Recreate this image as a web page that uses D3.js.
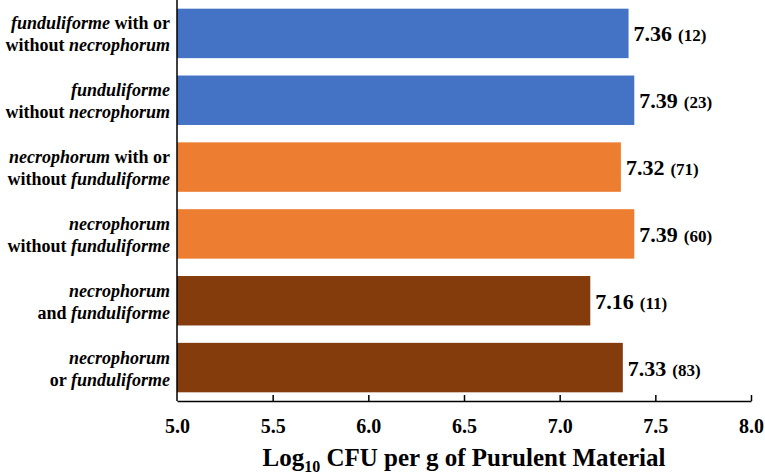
<!DOCTYPE html>
<meta charset="utf-8">
<style>
body { margin: 0; background: #fff; }
text { font-family: "Liberation Serif", "Times New Roman", serif; font-weight: bold; fill: #000; }
</style>
<body>
<script src="https://cdnjs.cloudflare.com/ajax/libs/d3/7.8.5/d3.min.js"></script>
<script>
// category labels, *...* marks italic, | splits lines
var categories = [
	"*funduliforme* with or|without *necrophorum*",
	"*funduliforme*|without *necrophorum*",
	"*necrophorum* with or|without *funduliforme*",
	"*necrophorum*|without *funduliforme*",
	"*necrophorum*|and *funduliforme*",
	"*necrophorum*|or *funduliforme*"
];
var values = [7.36, 7.39, 7.32, 7.39, 7.16, 7.33];
var counts = [12, 23, 71, 60, 11, 83];
var groups = ["f", "f", "n", "n", "b", "b"];
var xTicks = [5.0, 5.5, 6.0, 6.5, 7.0, 7.5, 8.0];

var colors = {f: "#4472C4", n: "#ED7D31", b: "#843C0C"};

var w = 765, h = 474;
var mLeft = 177, mRight = 751, mTop = 0, mBottom = 401;

var svg = d3.select("body").append("svg")
	.attr("width", w)
	.attr("height", h);

var x = d3.scaleLinear().domain([5, 8]).range([mLeft, mRight]);
var y = d3.scaleBand().domain(d3.range(values.length)).range([mTop, mBottom]).paddingInner(0.26).paddingOuter(0.13);

// bars
svg.selectAll("rect.bar")
	.data(values)
	.enter()
	.append("rect")
	.attr("class", "bar")
	.attr("x", x(5))
	.attr("y", (d, i) => y(i))
	.attr("width", d => x(d) - x(5))
	.attr("height", y.bandwidth())
	.attr("fill", (d, i) => colors[groups[i]]);

// value labels
var vl = svg.selectAll("text.val")
	.data(values)
	.enter()
	.append("text")
	.attr("class", "val")
	.attr("x", d => x(d) + 5)
	.attr("y", (d, i) => y(i) + y.bandwidth() / 2 + 8);
vl.append("tspan").style("font-size", "22px").text(d => d.toFixed(2));
vl.append("tspan").style("font-size", "17px").attr("dx", 6).text((d, i) => "(" + counts[i] + ")");

// axes frame
svg.append("line").attr("x1", mLeft).attr("x2", mLeft).attr("y1", mTop).attr("y2", mBottom).attr("stroke", "#000").attr("stroke-width", 1.5);
var xAxis = svg.append("g")
	.attr("transform", "translate(0," + mBottom + ")")
	.call(d3.axisBottom(x).tickValues(xTicks).tickSizeInner(-6).tickSizeOuter(0).tickFormat(d3.format(".1f")));
xAxis.select(".domain").attr("stroke", "#000").attr("stroke-width", 1.5);
xAxis.selectAll(".tick line").attr("stroke", "#000").attr("stroke-width", 1.5);
xAxis.selectAll(".tick text")
	.attr("y", 18)
	.attr("dy", "0.71em")
	.style("font-family", "'Liberation Serif', serif")
	.style("font-size", "20px")
	.style("font-weight", "bold");
xAxis.selectAll(".tick").filter(d => d === 5).select("line").remove();

// axis title
var title = svg.append("text")
	.attr("x", 464)
	.attr("y", 466)
	.attr("text-anchor", "middle")
	.style("font-size", "25px");
title.append("tspan").text("Log");
title.append("tspan").style("font-size", "16px").attr("dy", 6).text("10");
title.append("tspan").attr("dy", -6).text(" CFU per g of Purulent Material");

// category labels
categories.forEach(function(c, i) {
	var lines = c.split("|");
	var cy = y(i) + y.bandwidth() / 2;
	lines.forEach(function(line, j) {
		var t = svg.append("text")
			.attr("x", 170)
			.attr("y", cy + (j - (lines.length - 1) / 2) * 22 + 7)
			.attr("text-anchor", "end")
			.style("font-size", "18px");
		line.split("*").forEach(function(part, k) {
			if (part === "") return;
			t.append("tspan")
				.style("font-style", k % 2 === 1 ? "italic" : "normal")
				.text(part);
		});
	});
});
</script>
</body>
